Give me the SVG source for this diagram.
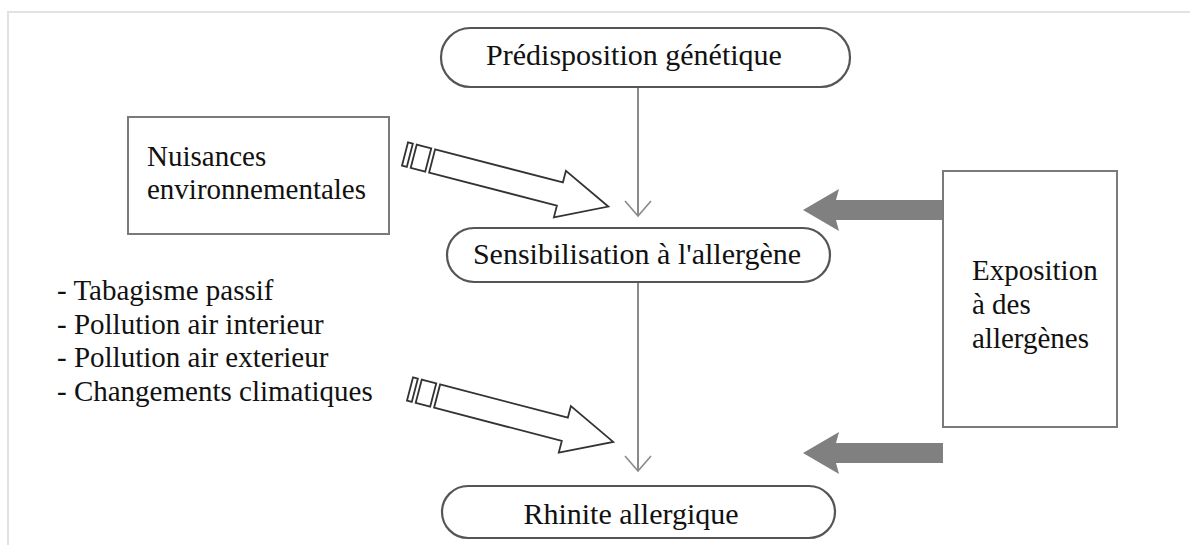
<svg xmlns="http://www.w3.org/2000/svg" width="1190" height="545" viewBox="0 0 1190 545">
  <style>
    text { font-family: "Liberation Serif", "Times New Roman", serif; font-size: 29px; fill: #111; }
    .mid { text-anchor: middle; font-size: 30px; }
    .pill { fill: #fff; stroke: #555; stroke-width: 2.2; }
    .box { fill: #fff; stroke: #7a7a7a; stroke-width: 2; }
    .frame { stroke: #e2e2e2; stroke-width: 2; fill: none; }
    .flow { stroke: #8a8a8a; stroke-width: 2; fill: none; }
    .chev { stroke: #8a8a8a; stroke-width: 1.6; fill: none; }
    .hollow { fill: #fff; stroke: #333; stroke-width: 1.8; stroke-linejoin: miter; }
    .solid { fill: #808080; stroke: none; }
  </style>
  <defs>
    <!-- striped hollow arrow drawn along +x, tail at origin -->
    <g id="striped">
      <rect class="hollow" x="0" y="-12" width="5" height="24"/>
      <rect class="hollow" x="9" y="-12" width="15" height="24"/>
      <path class="hollow" d="M28,-12 L160,-12 L160,-24 L210,0 L160,24 L160,12 L28,12 Z"/>
    </g>
    <!-- solid block arrow pointing left, tip at origin -->
    <path id="thick" class="solid" d="M0,0 L36,-21 L33,-10 L140,-10 L140,10 L33,10 L36,21 Z"/>
  </defs>

  <!-- page frame -->
  <path class="frame" d="M8,545 L8,12 L1190,12"/>

  <!-- connectors -->
  <g id="connectors">
    <line class="flow" x1="638" y1="88" x2="638" y2="215"/>
    <path class="chev" d="M625,201 L638,216 L651,201"/>
    <line class="flow" x1="638" y1="283" x2="638" y2="470"/>
    <path class="chev" d="M625,456 L638,471 L651,456"/>
    <use href="#striped" transform="translate(405,154) rotate(14.5)"/>
    <use href="#striped" transform="translate(410,389) rotate(14.6)"/>
    <use href="#thick" transform="translate(803,210)"/>
    <use href="#thick" transform="translate(803,453)"/>
  </g>

  <g id="predisposition">
    <rect class="pill" x="441" y="28" width="409" height="59" rx="29.5"/>
    <text class="mid" x="634" y="65">Prédisposition génétique</text>
  </g>

  <g id="sensibilisation">
    <rect class="pill" x="447" y="228" width="383" height="54" rx="27"/>
    <text class="mid" x="637" y="264">Sensibilisation à l'allergène</text>
  </g>

  <g id="rhinite">
    <rect class="pill" x="442" y="486" width="393" height="52" rx="26"/>
    <text class="mid" x="631" y="524">Rhinite allergique</text>
  </g>

  <g id="nuisances">
    <rect class="box" x="128" y="117" width="261" height="117"/>
    <text x="147" y="166">Nuisances</text>
    <text x="147" y="199">environnementales</text>
  </g>

  <g id="exposition">
    <rect class="box" x="943" y="171" width="174" height="256"/>
    <text x="972" y="280">Exposition</text>
    <text x="972" y="314">à des</text>
    <text x="972" y="348">allergènes</text>
  </g>

  <g id="facteurs">
    <text x="57" y="300">- Tabagisme passif</text>
    <text x="57" y="334">- Pollution air interieur</text>
    <text x="57" y="367">- Pollution air exterieur</text>
    <text x="57" y="401">- Changements climatiques</text>
  </g>
</svg>
